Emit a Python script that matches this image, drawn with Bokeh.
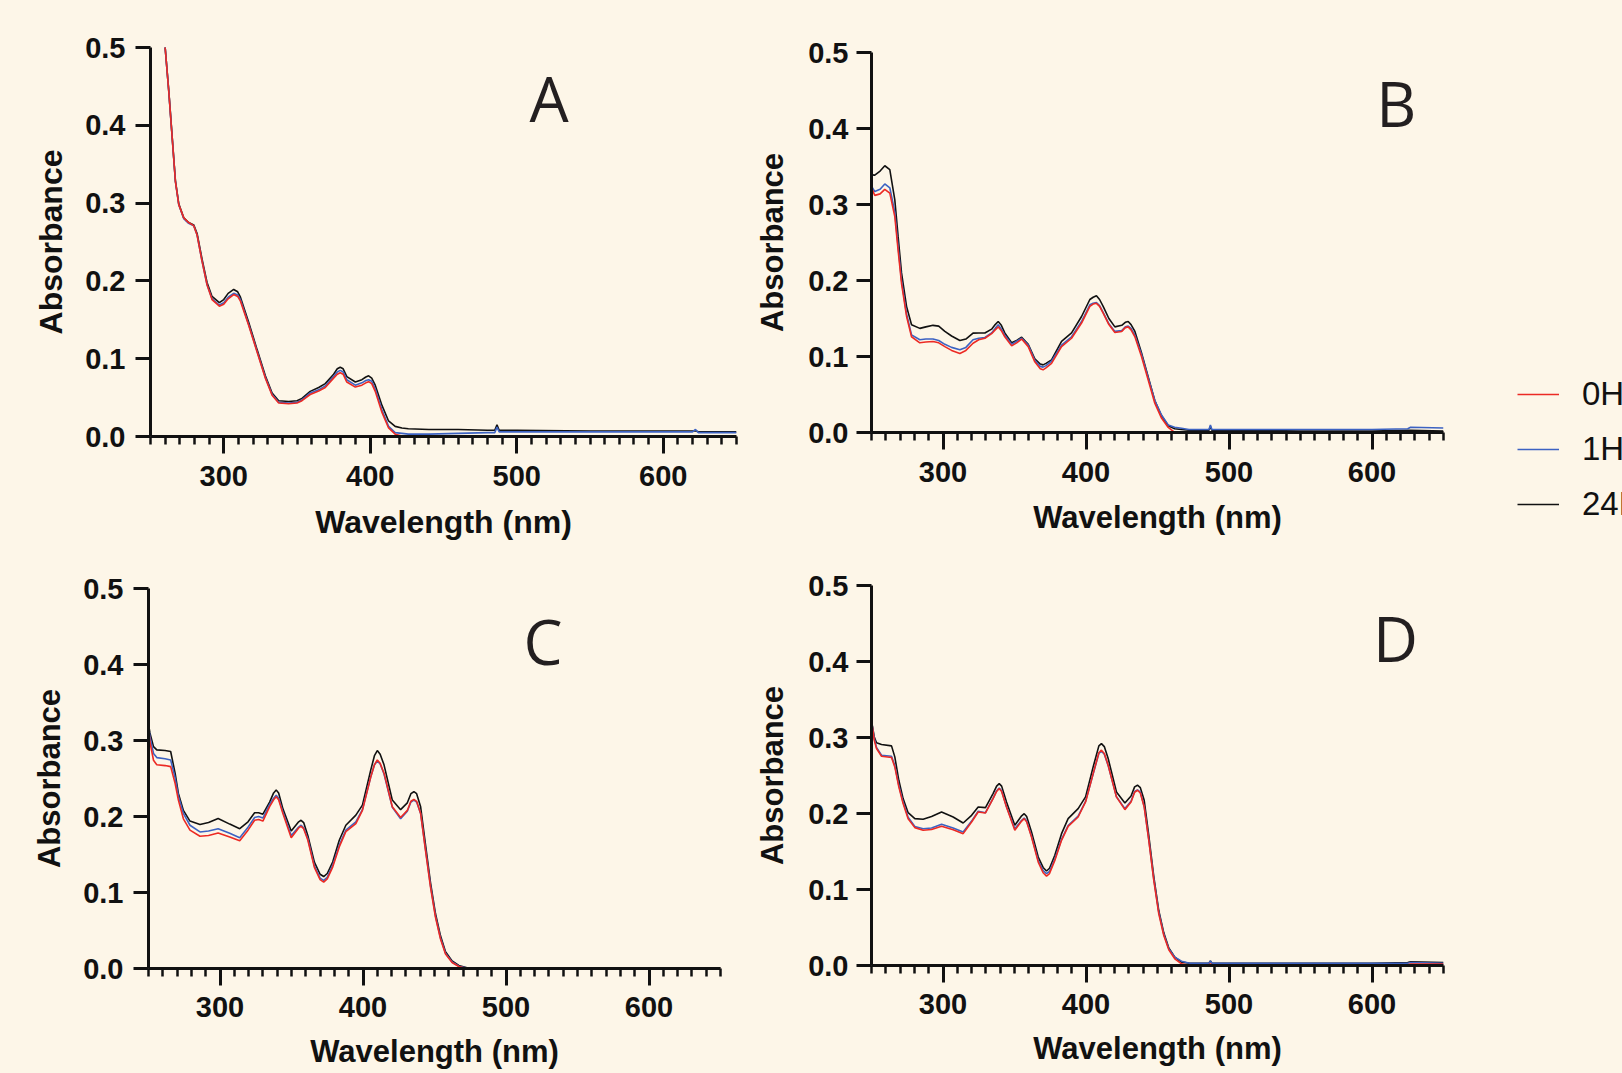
from bokeh.plotting import figure
from bokeh.models import Range1d, FixedTicker, PrintfTickFormatter, Legend, LegendItem
from bokeh.core.properties import value
from bokeh.embed import file_html
from bokeh.resources import INLINE

# ---------------- data ----------------
SERIES = ["0H", "1H", "24H"]
X_TICKS = [300, 400, 500, 600]
Y_TICKS = [0.0, 0.1, 0.2, 0.3, 0.4, 0.5]

# Panel A
A_WL = [250, 255, 260, 262.5, 265, 267, 269.3, 272.7, 276, 279.5, 281.8, 285.2, 288.6, 292, 297, 300, 303,
        306.8, 309.5, 311.4, 317, 322.7, 328.4, 333, 337.5, 344.3, 350, 353.4, 359, 364.8, 369.3, 375,
        377.5, 379.5, 381.5, 384, 389.8, 394.3, 397, 398.9, 401, 403.4, 408, 412.5, 417, 421.6, 426, 440,
        460, 480, 485, 486.5, 488, 500, 550, 600, 620, 622, 624, 650]
A_0H = [0.75, 0.62, 0.50, 0.443, 0.379, 0.328, 0.298, 0.281, 0.275, 0.271, 0.259, 0.225, 0.195, 0.176, 0.1675, 0.170, 0.177,
        0.1825, 0.180, 0.174, 0.143, 0.109, 0.075, 0.053, 0.043, 0.042, 0.043, 0.046, 0.054, 0.0585, 0.063, 0.075,
        0.080, 0.082, 0.080, 0.070, 0.0635, 0.066, 0.069, 0.0705, 0.068, 0.058, 0.031, 0.011, 0.003, 0.0005, 0.0, 0.0,
        0.0, 0.0, 0.0, 0.0, 0.0, 0.0, 0.0, 0.0, 0.0, 0.0, 0.0, 0.0]
A_1H = [0.75, 0.62, 0.50, 0.443, 0.379, 0.328, 0.298, 0.280, 0.274, 0.271, 0.259, 0.225, 0.195, 0.177, 0.169, 0.172, 0.179,
        0.184, 0.182, 0.176, 0.144, 0.110, 0.076, 0.054, 0.044, 0.043, 0.044, 0.047, 0.056, 0.060, 0.065, 0.077,
        0.083, 0.085, 0.083, 0.073, 0.066, 0.069, 0.072, 0.073, 0.071, 0.061, 0.034, 0.013, 0.005, 0.004, 0.003, 0.003,
        0.004, 0.005, 0.005, 0.012, 0.006, 0.006, 0.006, 0.006, 0.006, 0.009, 0.005, 0.005]
A_24H = [0.75, 0.62, 0.50, 0.444, 0.380, 0.329, 0.299, 0.281, 0.275, 0.272, 0.261, 0.228, 0.198, 0.180, 0.172, 0.176, 0.184,
         0.189, 0.186, 0.179, 0.147, 0.112, 0.078, 0.056, 0.046, 0.045, 0.046, 0.049, 0.058, 0.063, 0.068, 0.080,
         0.087, 0.089, 0.087, 0.077, 0.070, 0.073, 0.0765, 0.078, 0.075, 0.066, 0.040, 0.020, 0.013, 0.011, 0.010, 0.009,
         0.009, 0.008, 0.008, 0.015, 0.008, 0.008, 0.007, 0.007, 0.007, 0.007, 0.006, 0.006]

# Panel B
B_WL = [250, 252.3, 256, 259.3, 262.8, 266.3, 268.6, 271, 274.5, 278, 283.8, 288, 293, 297, 301.3, 306,
        311.8, 316, 321, 325, 329.3, 334, 336.5, 338.6, 340.8, 343.2, 348, 351.5, 355, 359.6, 364.2, 368, 370,
        372, 375.9, 382.9, 389.9, 396.9, 402.7, 405, 407.3, 409.5, 412, 416, 420.2, 425, 427.5, 429.5, 431.5,
        434.2, 438.8, 443.5, 448.1, 452.8, 457.5, 462, 466.8, 472, 480, 486, 487, 488, 500, 550, 600, 625, 627, 650]
B_0H = [0.322, 0.312, 0.314, 0.320, 0.315, 0.284, 0.240, 0.196, 0.153, 0.126, 0.118, 0.119, 0.1197, 0.118, 0.113, 0.108,
        0.104, 0.108, 0.1175, 0.122, 0.124, 0.130, 0.135, 0.139, 0.134, 0.126, 0.114, 0.118, 0.123, 0.113, 0.093, 0.084, 0.0825,
        0.085, 0.091, 0.113, 0.124, 0.144, 0.166, 0.169, 0.170, 0.166, 0.157, 0.142, 0.1316, 0.133, 0.138, 0.139, 0.135,
        0.126, 0.100, 0.069, 0.0386, 0.019, 0.0066, 0.0, 0.0, 0.0, 0.0, 0.0, 0.0, 0.0, 0.0, 0.0, 0.0, 0.0, 0.0, 0.0]
B_1H = [0.324, 0.317, 0.320, 0.327, 0.322, 0.290, 0.245, 0.200, 0.156, 0.1285, 0.122, 0.123, 0.123, 0.121, 0.116, 0.112,
        0.109, 0.112, 0.122, 0.124, 0.125, 0.131, 0.137, 0.1417, 0.136, 0.128, 0.116, 0.120, 0.124, 0.115, 0.095, 0.087, 0.086,
        0.088, 0.094, 0.115, 0.126, 0.146, 0.168, 0.170, 0.171, 0.167, 0.158, 0.143, 0.133, 0.134, 0.139, 0.140, 0.137,
        0.128, 0.103, 0.072, 0.042, 0.023, 0.010, 0.007, 0.0057, 0.004, 0.004, 0.004, 0.010, 0.004, 0.004, 0.004, 0.004, 0.005, 0.007, 0.006]
B_24H = [0.339, 0.3386, 0.344, 0.351, 0.346, 0.306, 0.258, 0.210, 0.166, 0.1417, 0.137, 0.139, 0.141, 0.140, 0.133, 0.127,
         0.121, 0.123, 0.1307, 0.131, 0.131, 0.136, 0.142, 0.146, 0.141, 0.131, 0.118, 0.121, 0.1254, 0.116, 0.097, 0.090, 0.089,
         0.091, 0.0956, 0.120, 0.131, 0.1526, 0.175, 0.178, 0.180, 0.175, 0.166, 0.150, 0.139, 0.141, 0.145, 0.146, 0.142,
         0.133, 0.105, 0.073, 0.042, 0.022, 0.009, 0.005, 0.004, 0.003, 0.003, 0.003, 0.008, 0.003, 0.003, 0.002, 0.002, 0.003, 0.003, 0.002]

# Panel C
C_WL = [250, 251, 253.5, 255.8, 261.6, 265.5, 268.6, 270.9, 274.4, 279, 286, 292, 298.7, 306.8, 313.8, 319.6,
        324.2, 327, 330, 334.7, 337.5, 339.3, 341, 344, 349.8, 355, 356.7, 358.5, 361.4, 366, 370, 372.5, 375,
        378.8, 383.4, 388, 395, 399.6, 405.4, 408, 410, 412, 414.7, 420.5, 426.3, 431, 433.5, 435.6, 437.5,
        440.3, 443.7, 447.2, 450.7, 454.2, 457.7, 462.3, 467, 472.7, 480, 500, 550, 600, 650]
C_0H = [0.317, 0.298, 0.274, 0.268, 0.267, 0.2656, 0.2436, 0.2216, 0.197, 0.182, 0.174, 0.175, 0.1784, 0.173, 0.168, 0.182,
        0.195, 0.196, 0.194, 0.213, 0.222, 0.226, 0.222, 0.204, 0.172, 0.185, 0.187, 0.184, 0.169, 0.133, 0.117, 0.1137, 0.118,
        0.1335, 0.160, 0.180, 0.1907, 0.208, 0.252, 0.268, 0.2744, 0.270, 0.257, 0.2128, 0.1987, 0.208, 0.220, 0.2225, 0.220,
        0.204, 0.1555, 0.107, 0.0674, 0.0388, 0.019, 0.0079, 0.0026, 0.0, 0.0, 0.0, 0.0, 0.0, 0.0]
C_1H = [0.320, 0.305, 0.283, 0.2775, 0.276, 0.2744, 0.251, 0.227, 0.204, 0.1885, 0.1797, 0.181, 0.184, 0.178, 0.172, 0.186,
        0.1987, 0.200, 0.198, 0.216, 0.224, 0.228, 0.224, 0.206, 0.175, 0.186, 0.1885, 0.185, 0.171, 0.135, 0.119, 0.116, 0.120,
        0.136, 0.162, 0.182, 0.193, 0.209, 0.252, 0.268, 0.273, 0.269, 0.256, 0.212, 0.197, 0.207, 0.219, 0.2216, 0.219,
        0.204, 0.157, 0.109, 0.069, 0.040, 0.020, 0.0085, 0.003, 0.0005, 0.0, 0.0, 0.0, 0.0, 0.0]
C_24H = [0.322, 0.310, 0.292, 0.2877, 0.2868, 0.2855, 0.257, 0.2304, 0.208, 0.194, 0.1894, 0.192, 0.1974, 0.190, 0.184, 0.193,
         0.205, 0.205, 0.203, 0.219, 0.231, 0.2348, 0.231, 0.210, 0.181, 0.193, 0.195, 0.192, 0.175, 0.140, 0.124, 0.121, 0.125,
         0.140, 0.1687, 0.1885, 0.2018, 0.215, 0.261, 0.280, 0.2868, 0.282, 0.268, 0.2216, 0.209, 0.218, 0.230, 0.2326, 0.230,
         0.2128, 0.163, 0.113, 0.072, 0.043, 0.022, 0.010, 0.004, 0.001, 0.0, 0.0, 0.0, 0.0, 0.001]

# Panel D
D_WL = [250, 251.9, 253.5, 257, 264, 266.3, 269.1, 272.1, 275.6, 280.3, 286.1, 292, 299, 307.1, 314.1, 320,
        324.6, 329.7, 335, 337.5, 339.3, 341, 344.4, 350.2, 355, 356.8, 358.5, 361.9, 366.6, 370, 372.4, 374.5,
        378.2, 382.9, 387.5, 394.5, 399.7, 405, 409, 410.8, 412.8, 415.5, 421.3, 427.2, 431.5, 434, 436, 438,
        440.7, 443.9, 447.4, 450.9, 454.4, 457.9, 462.1, 466.8, 472.6, 480, 486, 487, 488, 500, 550, 600, 625, 627, 650]
D_0H = [0.322, 0.2965, 0.2855, 0.2754, 0.2736, 0.2613, 0.235, 0.213, 0.1932, 0.1814, 0.1779, 0.179, 0.1831, 0.1787, 0.1735, 0.1888,
        0.202, 0.2007, 0.2196, 0.229, 0.2328, 0.229, 0.2086, 0.1779, 0.190, 0.1932, 0.189, 0.169, 0.136, 0.122, 0.1177, 0.121,
        0.1383, 0.1647, 0.1831, 0.1954, 0.2152, 0.2525, 0.280, 0.2833, 0.279, 0.2635, 0.2218, 0.2051, 0.215, 0.228, 0.2306, 0.227,
        0.2086, 0.1647, 0.112, 0.068, 0.0395, 0.0206, 0.0088, 0.0022, 0.0, 0.0005, 0.001, 0.002, 0.001, 0.001, 0.001, 0.001, 0.001, 0.002, 0.002]
D_1H = [0.322, 0.299, 0.287, 0.2767, 0.2754, 0.263, 0.237, 0.215, 0.195, 0.183, 0.180, 0.181, 0.1858, 0.181, 0.1757, 0.190,
        0.203, 0.201, 0.220, 0.230, 0.2335, 0.230, 0.209, 0.180, 0.191, 0.194, 0.190, 0.170, 0.138, 0.125, 0.1208, 0.124,
        0.140, 0.166, 0.184, 0.1965, 0.216, 0.252, 0.279, 0.282, 0.278, 0.263, 0.222, 0.2064, 0.216, 0.229, 0.231, 0.228,
        0.209, 0.166, 0.114, 0.070, 0.041, 0.022, 0.011, 0.0057, 0.003, 0.003, 0.003, 0.006, 0.003, 0.003, 0.003, 0.003, 0.003, 0.004, 0.003]
D_24H = [0.322, 0.301, 0.293, 0.2907, 0.289, 0.2745, 0.2437, 0.2196, 0.2011, 0.1932, 0.1924, 0.196, 0.202, 0.1954, 0.1875, 0.1976,
         0.2086, 0.2077, 0.2262, 0.236, 0.2393, 0.236, 0.215, 0.1845, 0.197, 0.1998, 0.196, 0.1757, 0.1427, 0.129, 0.1243, 0.128,
         0.145, 0.1735, 0.1932, 0.2064, 0.2218, 0.2613, 0.289, 0.292, 0.288, 0.2723, 0.2284, 0.2139, 0.223, 0.235, 0.2372, 0.234,
         0.2174, 0.171, 0.117, 0.072, 0.043, 0.023, 0.011, 0.0044, 0.003, 0.003, 0.003, 0.006, 0.003, 0.003, 0.003, 0.003, 0.004, 0.005, 0.004]

# ---------------- styling ----------------
BG = "#fdf6e8"
COLORS = {"0H": "#ec2a24", "1H": "#3c62c2", "24H": "#111111"}
TICK_FONT = "Liberation Sans"
LETTER_FONT = "Open Sans"


def place(p, left, top):
    p.styles = {"position": "absolute", "left": f"{left}px", "top": f"{top}px"}


def make_panel(wl, v0, v1, v24, letter, lx, ly, width, height, bl, br, bt, bb,
               title_size, xs1, xs2, ys1, ys2):
    p = figure(width=width, height=height, output_backend="svg", toolbar_location=None,
               x_range=Range1d(250, 650), y_range=Range1d(0, 0.5),
               min_border_left=bl, min_border_right=br, min_border_top=bt, min_border_bottom=bb,
               background_fill_color=BG, border_fill_color=BG, outline_line_color=None)
    p.grid.visible = False
    rends = {}
    for name, vals in (("24H", v24), ("1H", v1), ("0H", v0)):
        rends[name] = p.line(wl, vals, line_color=COLORS[name], line_width=1.6)

    for ax in (p.xaxis[0], p.yaxis[0]):
        ax.axis_line_width = 3
        ax.axis_line_color = "#111111"
        ax.major_tick_line_width = 3
        ax.minor_tick_line_width = 2.5
        ax.major_tick_line_color = "#111111"
        ax.minor_tick_line_color = "#111111"
        ax.major_tick_in = 0
        ax.minor_tick_in = 0
        ax.major_label_text_font = TICK_FONT
        ax.major_label_text_font_style = "bold"
        ax.major_label_text_font_size = "29px"
        ax.major_label_text_color = "#111111"
        ax.axis_label_text_font = TICK_FONT
        ax.axis_label_text_font_style = "bold"
        ax.axis_label_text_font_size = f"{title_size}px"
        ax.axis_label_text_color = "#111111"

    xa = p.xaxis[0]
    xa.ticker = FixedTicker(ticks=X_TICKS, minor_ticks=list(range(250, 651, 10)))
    xa.major_tick_out = 17
    xa.minor_tick_out = 8
    xa.major_label_standoff = xs1
    xa.axis_label = "Wavelength (nm)"
    xa.axis_label_standoff = xs2

    ya = p.yaxis[0]
    ya.ticker = FixedTicker(ticks=Y_TICKS, minor_ticks=[])
    ya.formatter = PrintfTickFormatter(format="%.1f")
    ya.major_tick_out = 15
    ya.minor_tick_out = 0
    ya.major_label_standoff = ys1
    ya.axis_label = "Absorbance"
    ya.axis_label_standoff = ys2

    p.text(x=[lx], y=[ly], text=[letter], text_font=value(LETTER_FONT), text_font_size="62px",
           text_align="center", text_baseline="alphabetic", text_color="#231f20")
    return p, rends


# panels overlap by one pixel so that no seam shows between them
pA, _ = make_panel(A_WL, A_0H, A_1H, A_24H, "A", 522, 0.435, 750, 545, 150, 14, 47, 109, 32, 12, 15, 10, 13)
pB, _ = make_panel(B_WL, B_0H, B_1H, B_24H, "B", 616.9, 0.434, 873, 545, 122, 179, 52, 113, 31, 12, 15, 8, 15)
pC, _ = make_panel(C_WL, C_0H, C_1H, C_24H, "C", 525.9, 0.4315, 750, 529, 148, 30, 44, 105, 31, 11, 14, 10, 13)
pD, _ = make_panel(D_WL, D_0H, D_1H, D_24H, "D", 616.4, 0.4315, 873, 529, 122, 179, 41, 108, 31, 11, 14, 8, 15)
place(pA, 0, 0)
place(pB, 749, 0)
place(pC, 0, 544)
place(pD, 749, 544)

# legend panel (sits in the empty area right of panel B)
pL = figure(width=172, height=200, output_backend="svg", toolbar_location=None,
            x_range=Range1d(0, 1), y_range=Range1d(0, 1), x_axis_type=None, y_axis_type=None,
            min_border=0, background_fill_color=BG, border_fill_color=BG, outline_line_color=None)
pL.grid.visible = False
leg_rends = {}
for name, vals in (("0H", B_0H), ("1H", B_1H), ("24H", B_24H)):
    leg_rends[name] = pL.line(B_WL, vals, line_color=COLORS[name], line_width=1.6, visible=False)
legend = Legend(items=[LegendItem(label=s, renderers=[leg_rends[s]]) for s in SERIES],
                location=(67, 20), orientation="vertical",
                glyph_width=42, glyph_height=40, label_height=40, label_standoff=23,
                spacing=15, padding=0, margin=0,
                label_text_font=TICK_FONT, label_text_font_size="33px", label_text_color="#111111",
                border_line_color=None, border_line_width=0, background_fill_alpha=0)
pL.add_layout(legend)
place(pL, 1450, 344)

html = file_html([pA, pB, pC, pD, pL], INLINE)
html = html.replace("<body>", f'<body style="background-color:{BG};">', 1)
html = html.replace("<html", f'<html style="background-color:{BG};"', 1)
open("out.html", "w").write(html)
